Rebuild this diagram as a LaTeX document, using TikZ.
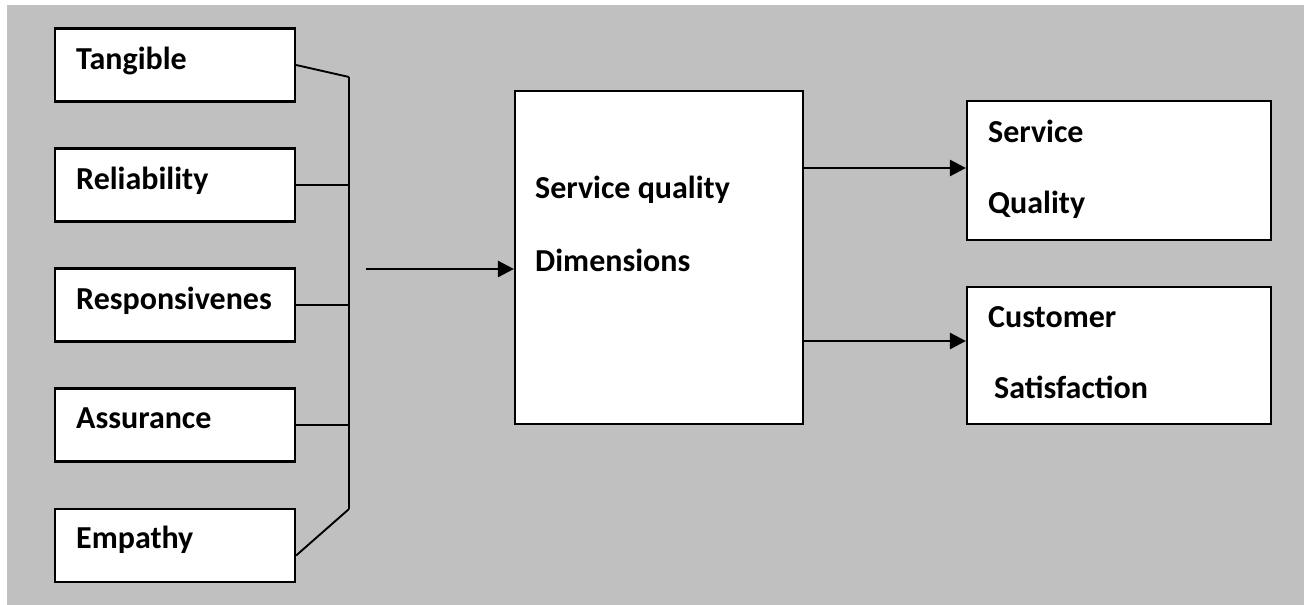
\documentclass[tikz,border=0pt]{standalone}
\usepackage{fontspec}
\setmainfont{Carlito}
\usetikzlibrary{arrows.meta}
\definecolor{bggray}{RGB}{192,192,192}
\begin{document}
\begin{tikzpicture}[
            x=1pt, y=-1pt,
            dimbox/.style={
                draw, line width=2.2pt, fill=white, inner sep=0pt,
                minimum width=240pt, minimum height=73pt
            },
            bigbox/.style={
                draw, line width=2.2pt, fill=white, inner sep=0pt,
                minimum width=288pt, minimum height=333pt
            },
            outbox/.style={
                draw, line width=2.2pt, fill=white, inner sep=0pt,
                minimum width=304pt
            },
            txt/.style={
                anchor=base west, inner sep=0pt,
                font=\fontsize{32}{38}\selectfont\bfseries
            },
            link/.style={line width=1.9pt},
            flow/.style={line width=2.7pt, -{Triangle[length=16pt, width=16pt]}}
        ]
        \useasboundingbox (0,0) rectangle (1304,605);
        \fill[bggray] (7,5) rectangle (1304,605);

        % dimension boxes
        \node[dimbox] (tang) at (175,65) {};
        \node[dimbox] (reli) at (175,185) {};
        \node[dimbox] (resp) at (175,305) {};
        \node[dimbox] (assu) at (175,425) {};
        \node[dimbox] (empa) at (175,545.5) {};
        \node[txt] (tangtxt) at (76,69) {Tangible};
        \node[txt] (relitxt) at (76,189) {Reliability};
        \node[txt] (resptxt) at (76,309) {Responsivenes};
        \node[txt] (assutxt) at (76,428) {Assurance};
        \node[txt] (empatxt) at (76,548) {Empathy};

        % middle and right boxes
        \node[bigbox] (sqd) at (659,257.5) {};
        \node[txt] (sqdtxt1) at (535,198) {Service quality};
        \node[txt] (sqdtxt2) at (535,271) {Dimensions};
        \node[outbox, minimum height=139pt] (squa) at (1119,170.5) {};
        \node[txt] (squatxt1) at (988,142) {Service};
        \node[txt] (squatxt2) at (988,213) {Quality};
        \node[outbox, minimum height=137pt] (csat) at (1119,355.5) {};
        \node[txt] (csattxt1) at (988,327) {Customer};
        \node[txt] (csattxt2) at (994,398) {Satisfaction};

        % bracket
        \coordinate (bustop) at (349,77);
        \coordinate (busbot) at (349,509);
        \draw[link] (bustop) -- (busbot);
        \draw[link] (tang.east) -- (bustop);
        \draw[link] (reli.east) -- (reli.east -| bustop);
        \draw[link] (resp.east) -- (resp.east -| bustop);
        \draw[link] (assu.east) -- (assu.east -| bustop);
        \draw[link] ([yshift=-10pt]empa.east) -- (busbot);

        % arrows
        \coordinate (instart) at (366,269);
        \draw[flow] (instart) -- (instart -| sqd.west);
        \draw[flow] (sqd.east |- 0,168) -- (squa.west |- 0,168);
        \draw[flow] (sqd.east |- 0,341) -- (csat.west |- 0,341);
        \end{tikzpicture}
\end{document}
